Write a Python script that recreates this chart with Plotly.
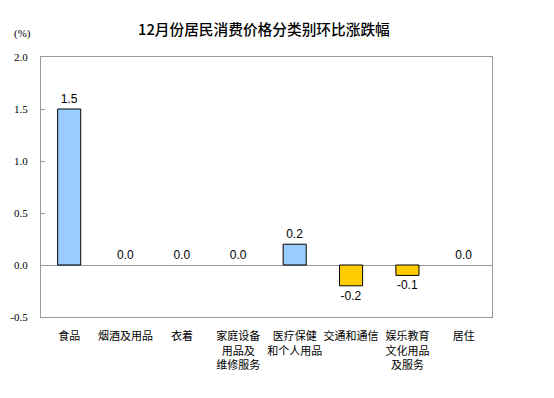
import plotly.graph_objects as go

categories = ["食品", "烟酒及用品", "衣着", "家庭设备<br>用品及<br>维修服务",
              "医疗保健<br>和个人用品", "交通和通信", "娱乐教育<br>文化用品<br>及服务", "居住"]
values = [1.5, 0.0, 0.0, 0.0, 0.2, -0.2, -0.1, 0.0]
tick_vals = [-0.5, 0.0, 0.5, 1.0, 1.5, 2.0]
tick_text = ["-0.5", "0.0", "0.5", "1.0", "1.5", "2.0"]

colors = ["#99CCFF" if v >= 0 else "#FFCC00" for v in values]
line_widths = [1 if v != 0 else 0 for v in values]

fig = go.Figure(go.Bar(
    x=categories, y=values,
    marker=dict(color=colors, line=dict(color="black", width=line_widths)),
    width=0.41,
    text=[f"{v:.1f}" for v in values],
    textposition="outside",
    textfont=dict(family="Liberation Sans, Arial", size=12, color="black"),
    cliponaxis=False,
))

fig.update_layout(
    width=554, height=398,
    margin=dict(l=33, r=70, t=49, b=89, autoexpand=False),
    plot_bgcolor="white", paper_bgcolor="white",
    showlegend=False,
    title=dict(text="12月份居民消费价格分类别环比涨跌幅", x=0.462, xanchor="center",
               y=0.945, yanchor="middle",
               font=dict(family="Noto Sans CJK SC", size=14.7, color="black", weight=500)),
    xaxis=dict(showline=True, linecolor="#999999", mirror=True, showgrid=False,
               ticks="", tickangle=0, automargin=False,
               tickfont=dict(family="Noto Sans CJK SC", size=11, color="black"),
               ticklabelstandoff=9),
    yaxis=dict(range=[-0.5, 2.0], tickvals=tick_vals, ticktext=tick_text,
               showline=True, linecolor="#999999", mirror=True, showgrid=False,
               ticks="inside", ticklen=4, tickcolor="#999999", automargin=False,
               zeroline=True, zerolinecolor="#999999", zerolinewidth=1,
               tickfont=dict(family="Liberation Serif, Times New Roman", size=11, color="black"),
               ticklabelstandoff=10),
)
fig.layout.annotations = [dict(text="(%)", xref="paper", yref="paper",
                               x=-0.04, y=1.092, xanchor="center", yanchor="middle",
                               showarrow=False,
                               font=dict(family="Liberation Serif", size=11, color="black"))]

fig.write_html("out.html")
